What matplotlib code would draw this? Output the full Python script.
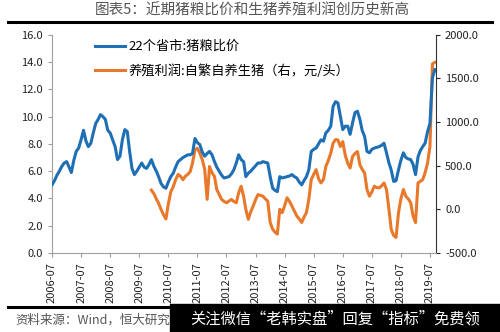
import numpy as np
import pandas as pd
import matplotlib
matplotlib.use("Agg")
import matplotlib.pyplot as plt
import matplotlib.dates as mdates

plt.rcParams['font.family'] = ['Noto Sans CJK SC', 'DejaVu Sans']

# monthly values, 2006-07 .. 2019-09
ratio = [5.0, 5.3, 5.7, 6.0, 6.35, 6.6, 6.7, 6.3, 5.9, 6.8,
         7.45, 7.7, 8.3, 9.0, 8.2, 7.8, 8.05, 8.8, 9.5, 9.8,
         10.15, 10.0, 9.8, 9.0, 8.8, 8.3, 7.8, 6.85, 7.1, 8.3,
         9.05, 8.9, 7.5, 6.2, 5.75, 6.0, 6.3, 6.6, 6.3, 6.2,
         6.5, 6.85, 6.35, 6.0, 5.6, 5.1, 4.85, 4.75, 5.2, 5.6,
         5.85, 6.3, 6.7, 6.85, 7.0, 7.1, 7.2, 7.2, 7.3, 8.4,
         8.1, 7.95, 7.4, 7.1, 7.3, 7.45, 7.2, 6.7, 6.3, 6.0,
         5.7, 5.5, 5.55, 5.6, 5.8, 6.1, 6.6, 7.2, 6.85, 6.7,
         5.6, 5.85, 6.0, 6.2, 6.4, 6.6, 6.6, 6.7, 6.65, 6.6,
         5.6, 4.75, 4.6, 4.5, 5.6, 5.5, 5.55, 5.6, 5.65, 5.75,
         5.6, 5.5, 5.2, 5.0, 5.3, 5.6, 6.1, 7.45, 7.6, 7.7,
         8.0, 8.3, 8.2, 8.8, 9.0, 9.3, 10.75, 11.1, 11.0, 10.0,
         9.05, 9.3, 9.3, 8.7, 9.55, 10.3, 10.4, 9.8, 9.0, 8.55,
         7.45, 7.35, 7.6, 7.7, 7.75, 7.8, 7.9, 8.05, 7.35, 6.6,
         6.1, 5.25, 5.3, 6.1, 6.8, 7.35, 7.0, 6.9, 6.85, 6.5,
         5.75, 7.05, 7.5, 7.8, 8.05, 8.9, 9.5, 12.85, 13.45]

# profit starts 2009-12
profit = [220, 180, 120, 70, 0, -60, -110, 60, 200,
          260, 340, 400, 380, 340, 380, 400, 430, 530, 682,
          700, 644, 570, 460, 114, 492, 420, 378, 227, 170,
          114, 90, 76, 95, 114, 90, 76, 190, 265, 150,
          0, -114, -30, 38, 110, 170, 160, 151, 120, 95,
          -151, -227, -260, -284, 0, -38, 40, 133, 90, 38,
          -20, -76, -110, -151, -90, -38, 114, 341, 400, 455,
          350, 303, 341, 492, 560, 644, 758, 800, 795, 720,
          776, 620, 530, 474, 606, 640, 663, 511, 460, 417,
          227, 151, 200, 265, 250, 246, 270, 303, 227, 0,
          -227, -300, -322, -38, 120, 227, 151, 120, 76, -76,
          -151, 303, 320, 341, 420, 530, 720, 1667, 1685]

dates = pd.date_range("2006-07-01", periods=len(ratio), freq="MS")
pdates = dates[len(ratio) - len(profit):]
tick_dates = pd.date_range("2006-07-01", "2019-07-01", freq="12MS")
tick_labels = [d.strftime("%Y-%m") for d in tick_dates]

blue = "#1f6fb5"
orange = "#e8792a"

fig = plt.figure(figsize=(5, 3.32), dpi=100)
ax = fig.add_axes([0.104, 0.238, 0.768, 0.657])
ax2 = ax.twinx()

l1, = ax.plot(dates, ratio, color=blue, lw=2.2, label="22个省市:猪粮比价", zorder=3)
l2, = ax2.plot(pdates, profit, color=orange, lw=2.2, label="养殖利润:自繁自养生猪（右，元/头）")
ax.set_zorder(ax2.get_zorder() + 1)
ax.patch.set_visible(False)

ax.set_ylim(0, 16)
ax.set_yticks(np.arange(0, 17, 2))
ax.set_yticklabels(["%.1f" % v for v in np.arange(0, 17, 2)])
ax2.set_ylim(-500, 2000)
ax2.set_yticks(np.arange(-500, 2001, 500))
ax2.set_yticklabels(["%.1f" % v for v in np.arange(-500, 2001, 500)])

ax.set_xlim(pd.Timestamp("2006-07-01"), pd.Timestamp("2019-09-15"))
ax.set_xticks(tick_dates)
ax.set_xticklabels(tick_labels, rotation=90)

for a in (ax, ax2):
    a.spines['top'].set_visible(False)
    a.tick_params(labelsize=8, colors="#222222", length=3, width=0.8)
ax.spines['left'].set_color("#a0a0a0")
ax.spines['bottom'].set_color("#a0a0a0")
ax.spines['right'].set_visible(False)
ax2.spines['left'].set_visible(False)
ax2.spines['bottom'].set_visible(False)
ax2.spines['right'].set_color("#333333")
ax.tick_params(axis='y', colors="#a0a0a0", labelcolor="#222222")
ax.tick_params(axis='x', colors="#a0a0a0", labelcolor="#222222")

ax.legend(handles=[l1, l2], loc="upper left", bbox_to_anchor=(0.08, 1.03),
          frameon=False, fontsize=9.5, handlelength=2.3, labelspacing=0.85,
          handletextpad=0.3)

# title and frame lines
fig.text(0.505, 0.968, "图表5：近期猪粮比价和生猪养殖利润创历史新高", ha="center", va="center",
         fontsize=10.5, color="#555555")
fig.add_artist(plt.Line2D([0.016, 0.984], [0.934, 0.934], color="black", lw=2.2))
fig.add_artist(plt.Line2D([0.016, 0.984], [0.074, 0.074], color="black", lw=2.2))
fig.text(0.03, 0.035, "资料来源：Wind，恒大研究院", ha="left", va="center",
         fontsize=9, color="#555555", style="italic")

# watermark box
fig.add_artist(plt.Rectangle((0.34, 0.0), 0.66, 0.085, transform=fig.transFigure,
                             color="black", zorder=5))
fig.text(0.67, 0.04, "关注微信“老韩实盘”回复“指标”免费领", ha="center", va="center",
         fontsize=11, color="white", zorder=6)

fig.savefig("out.png", dpi=100)
